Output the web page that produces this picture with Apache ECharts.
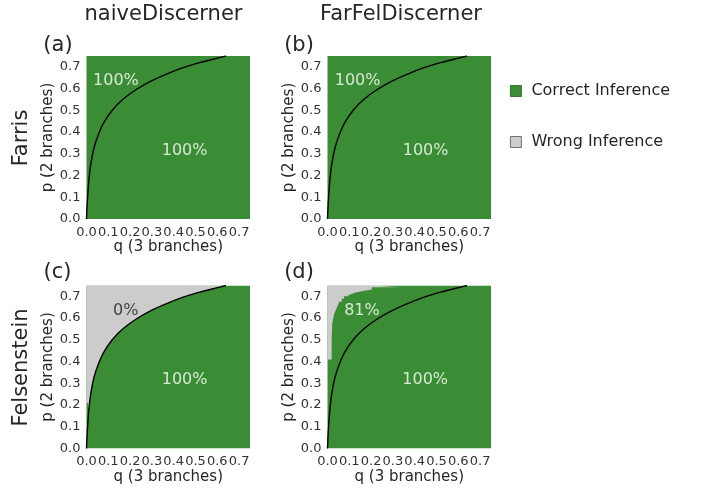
<!DOCTYPE html>
<html>
<head>
<meta charset="utf-8">
<script src="https://cdn.jsdelivr.net/npm/echarts@6/dist/echarts.min.js"></script>
<style>html,body{margin:0;padding:0;background:#fff}#c{width:711px;height:488px}</style>
</head>
<body>
<div id="c"></div>
<script>
// ---- data ----
const columnTitles = ['naiveDiscerner', 'FarFelDiscerner'];
const rowTitles = ['Farris', 'Felsenstein'];
const panelLetters = ['(a)', '(b)', '(c)', '(d)'];
const tickLabels = ['0.0', '0.1', '0.2', '0.3', '0.4', '0.5', '0.6', '0.7'];
const legendNames = ['Correct Inference', 'Wrong Inference'];

// boundary curve (q, p) drawn in every panel
const curveQ = [0, 0.002, 0.005, 0.011, 0.02, 0.035, 0.055, 0.08, 0.12, 0.17, 0.23, 0.30, 0.37, 0.44, 0.51, 0.58, 0.64];
const curveP = [0, 0.05, 0.10, 0.18, 0.255, 0.33, 0.39, 0.445, 0.503, 0.553, 0.597, 0.637, 0.668, 0.695, 0.717, 0.735, 0.75];

// wrong-inference region lower edge, panel (c)
const grayCQ = [0, 0.005, 0.011, 0.02, 0.035, 0.055, 0.08, 0.12, 0.17, 0.23, 0.30, 0.37, 0.44, 0.51, 0.58, 0.64];
const grayCP = [0.21, 0.21, 0.18, 0.255, 0.33, 0.39, 0.445, 0.503, 0.553, 0.597, 0.637, 0.668, 0.695, 0.717, 0.735, 0.75];

// wrong-inference region lower edge (staircase), panel (d)
const grayDQ = [0, 0.019, 0.022, 0.03, 0.039, 0.047, 0.054, 0.065, 0.076, 0.091, 0.103, 0.126, 0.157, 0.203, 0.33];
const grayDP = [0.41, 0.51, 0.578, 0.617, 0.64, 0.658, 0.675, 0.689, 0.701, 0.709, 0.717, 0.724, 0.732, 0.742, 0.75];

// percentage annotations per panel: [q, p, text]
const upperLabels = [[0.135, 0.635, '100%'], [0.138, 0.635, '100%'], [0.18, 0.635, '0%'], [0.158, 0.635, '81%']];
const lowerLabels = [[0.45, 0.315, '100%'], [0.45, 0.315, '100%'], [0.45, 0.318, '100%'], [0.448, 0.318, '100%']];
const upperLabelColors = ['#ffffff', '#ffffff', '#1a1a1a', '#ffffff'];

const axisMax = 0.75;

// ---- styles ----
const GREEN = '#3a8d34';
const GRAY = '#cccccc';
const TXT = '#262626';
const FONT = '"DejaVu Sans", sans-serif';

const grids = [
  {left: 86.5, top: 56, width: 163.5, height: 163},
  {left: 327.5, top: 56, width: 163.5, height: 163},
  {left: 86.5, top: 285.5, width: 163.5, height: 163},
  {left: 327.5, top: 285.5, width: 163.5, height: 163}
];

function tickFmt(v) {
  const i = Math.round(v * 10);
  return Math.abs(v * 10 - i) < 1e-6 && tickLabels[i] !== undefined ? tickLabels[i] : '';
}

const xAxes = [], yAxes = [], series = [];
grids.forEach((g, k) => {
  xAxes.push({
    type: 'value', gridIndex: k, min: 0, max: axisMax, interval: 0.1,
    axisLine: {show: false}, axisTick: {show: false}, splitLine: {show: false},
    axisLabel: {formatter: tickFmt, fontSize: 13, color: '#333', margin: 7, fontFamily: FONT},
    name: 'q (3 branches)', nameLocation: 'middle', nameGap: 16,
    nameTextStyle: {fontSize: 15, color: TXT, fontFamily: FONT}
  });
  yAxes.push({
    type: 'value', gridIndex: k, min: 0, max: axisMax, interval: 0.1,
    axisLine: {show: false}, axisTick: {show: false}, splitLine: {show: false},
    axisLabel: {formatter: tickFmt, fontSize: 13, color: '#333', margin: 6, fontFamily: FONT},
    name: 'p (2 branches)', nameLocation: 'middle', nameGap: 27,
    nameTextStyle: {fontSize: 15, color: TXT, fontFamily: FONT}
  });
  // correct-inference fill (whole square)
  series.push({
    name: legendNames[0], type: 'line', xAxisIndex: k, yAxisIndex: k,
    data: [[0, axisMax], [axisMax, axisMax]], symbol: 'none',
    lineStyle: {width: 0}, itemStyle: {color: GREEN},
    areaStyle: {color: GREEN, opacity: 1, origin: 'start'}, z: 1, silent: true
  });
  if (k === 2 || k === 3) {
    const qs = k === 2 ? grayCQ : grayDQ;
    const ps = k === 2 ? grayCP : grayDP;
    series.push({
      name: legendNames[1], type: 'line', xAxisIndex: k, yAxisIndex: k,
      data: qs.map((q, i) => [q, ps[i]]), symbol: 'none',
      step: k === 3 ? 'end' : false,
      smooth: k === 2 ? 0.3 : false,
      lineStyle: {width: 0}, itemStyle: {color: GRAY},
      areaStyle: {color: GRAY, opacity: 1, origin: 'end'}, z: 2, silent: true
    });
  }
  series.push({
    type: 'line', xAxisIndex: k, yAxisIndex: k,
    data: curveQ.map((q, i) => [q, curveP[i]]), symbol: 'none', smooth: 0.3,
    lineStyle: {color: '#000', width: 1.4}, z: 3, silent: true
  });
  series.push({
    type: 'scatter', xAxisIndex: k, yAxisIndex: k, symbolSize: 0, z: 4, silent: true,
    data: [
      {value: [upperLabels[k][0], upperLabels[k][1]], label: {formatter: upperLabels[k][2], color: upperLabelColors[k]}},
      {value: [lowerLabels[k][0], lowerLabels[k][1]], label: {formatter: lowerLabels[k][2], color: '#ffffff'}}
    ],
    label: {show: true, position: 'inside', fontSize: 16, fontFamily: FONT}
  });
});

const graphics = [];
const colCenters = [163.5, 401];
columnTitles.forEach((t, i) => graphics.push({
  type: 'text', x: colCenters[i], y: 15,
  style: {text: t, font: '21px ' + FONT, fill: TXT, align: 'center', verticalAlign: 'middle'}
}));
const rowCenters = [138, 367.5];
rowTitles.forEach((t, i) => graphics.push({
  type: 'text', x: 22, y: rowCenters[i], rotation: Math.PI / 2,
  style: {text: t, font: '21px ' + FONT, fill: TXT, align: 'center', verticalAlign: 'middle'}
}));
const letterPos = [[58, 46], [299, 46], [57.5, 273], [299, 273]];
panelLetters.forEach((t, i) => graphics.push({
  type: 'text', x: letterPos[i][0], y: letterPos[i][1],
  style: {text: t, font: '21px ' + FONT, fill: TXT, align: 'center', verticalAlign: 'middle'}
}));

const chart = echarts.init(document.getElementById('c'), null, {renderer: 'canvas'});
chart.setOption({
  animation: false,
  backgroundColor: '#fff',
  grid: grids,
  xAxis: xAxes,
  yAxis: yAxes,
  series: series,
  graphic: graphics,
  legend: {
    orient: 'vertical', left: 505, top: 78, icon: 'rect',
    itemWidth: 11, itemHeight: 11, itemGap: 35, selectedMode: false,
    textStyle: {fontSize: 16, color: TXT, fontFamily: FONT, padding: [0, 0, 0, 5]},
    data: [
      {name: legendNames[0], itemStyle: {color: GREEN, borderColor: '#245c20', borderWidth: 0.8}},
      {name: legendNames[1], itemStyle: {color: GRAY, borderColor: '#555', borderWidth: 0.8}}
    ]
  }
});
</script>
</body>
</html>
